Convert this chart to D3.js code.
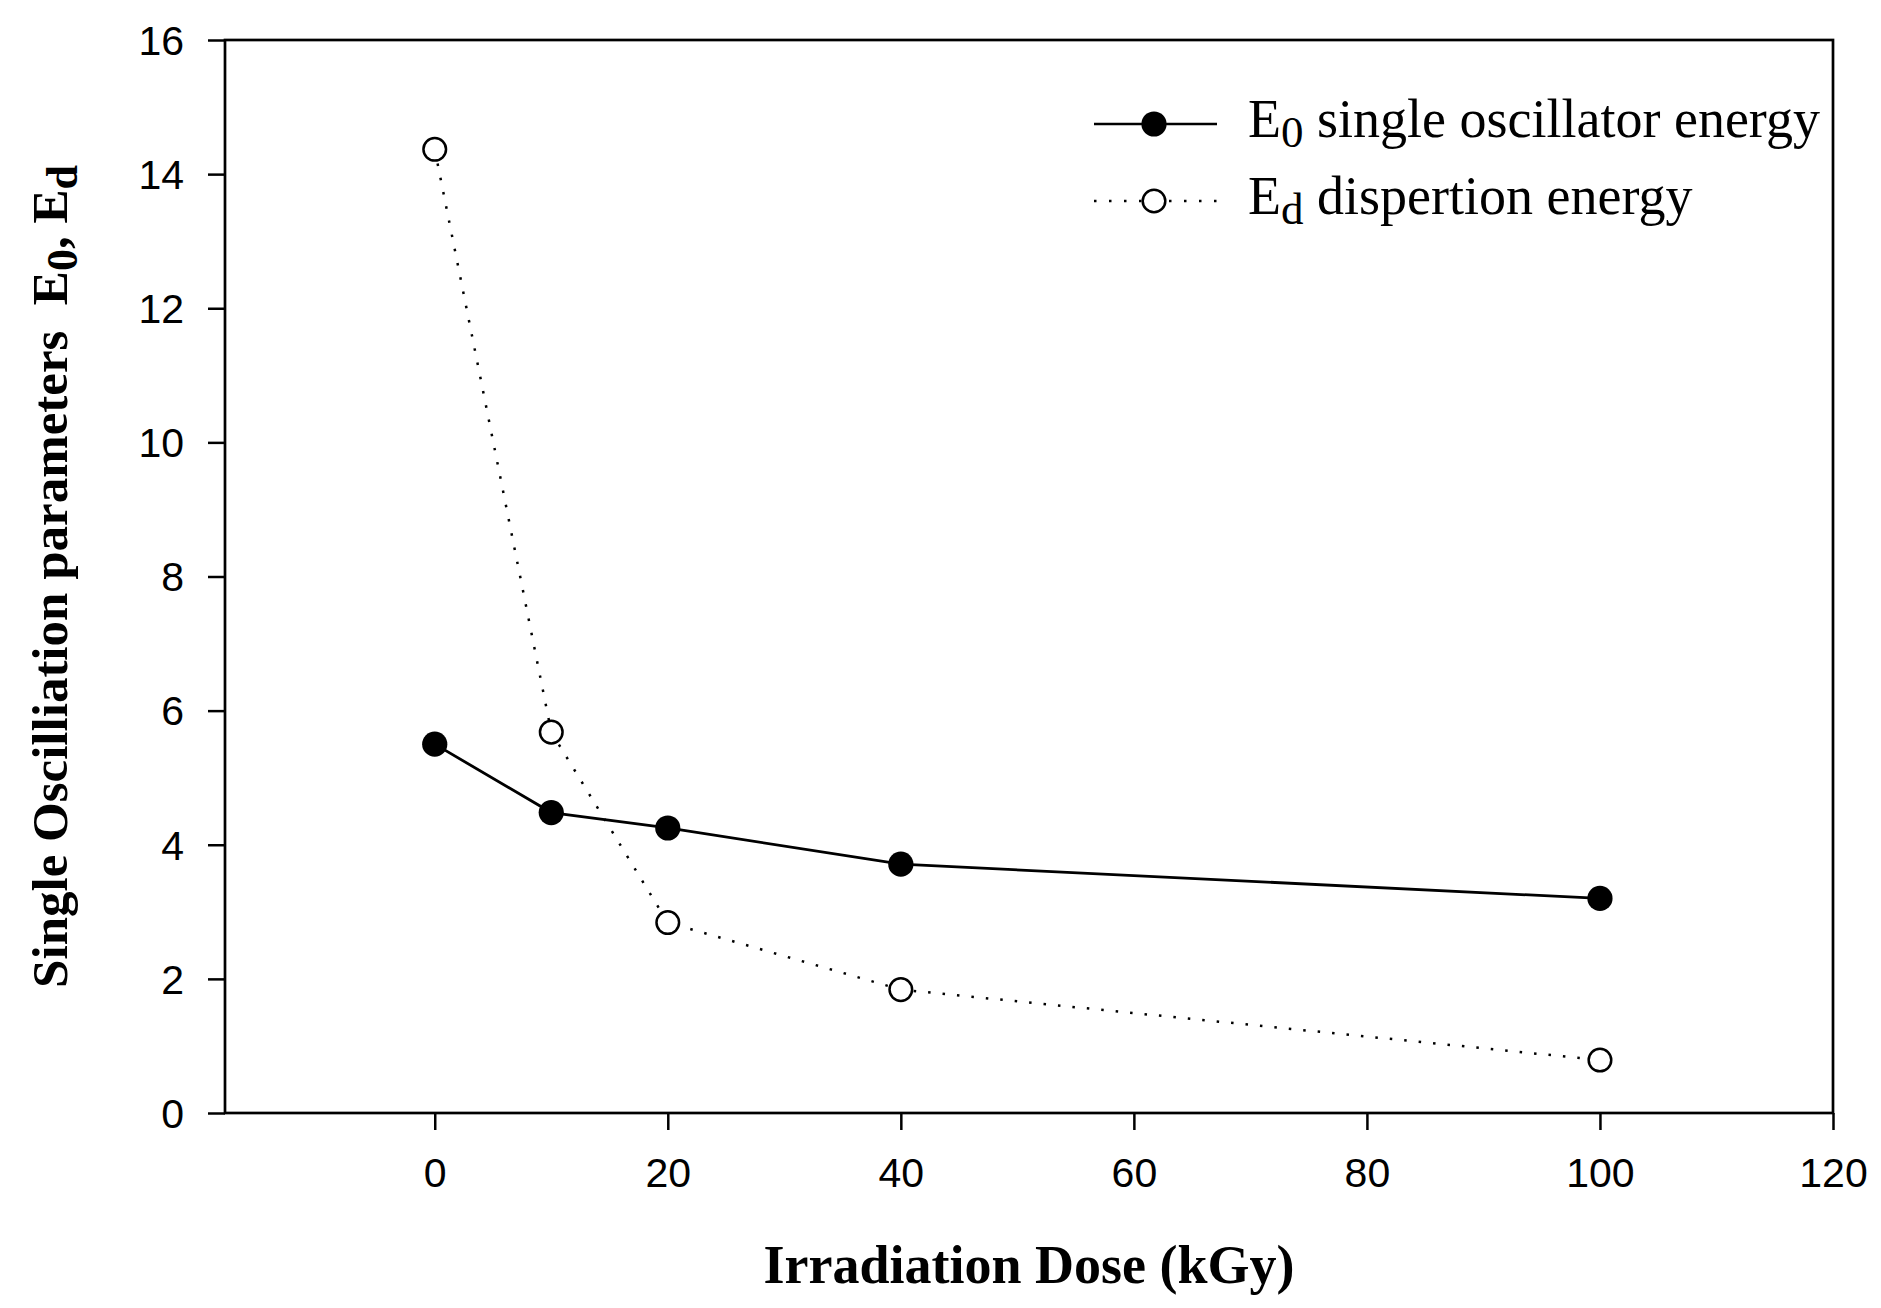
<!DOCTYPE html>
<html>
<head>
<meta charset="utf-8">
<script src="https://cdn.jsdelivr.net/npm/d3@7"></script>
<style>
  body { margin: 0; background: #fff; }
  text { white-space: pre; }
</style>
</head>
<body>
<div id="chart"></div>
<script>
// data
var doses = [0, 10, 20, 40, 100]
var e0 = [5.5, 4.48, 4.25, 3.71, 3.2]
var ed = [14.37, 5.68, 2.84, 1.84, 0.79]
var xTicks = [0, 20, 40, 60, 80, 100, 120]
var yTicks = [0, 2, 4, 6, 8, 10, 12, 14, 16]

var W = 1881, H = 1308
var margin = {top: 40, right: 48, bottom: 195, left: 225},
    width = W - margin.left - margin.right,
    height = H - margin.top - margin.bottom

var svg = d3.select("#chart")
  .append("svg")
    .attr("width", W)
    .attr("height", H)
  .append("g")
    .attr("transform", "translate(" + margin.left + "," + margin.top + ")")

var x = d3.scaleLinear().domain([-18, 120]).range([0, width])
var y = d3.scaleLinear().domain([0, 16]).range([height, 0])

var sans = "'Liberation Sans', Arial, sans-serif"
var serif = "'Liberation Serif', 'Times New Roman', serif"

// axes
var xAxis = svg.append("g")
  .attr("transform", "translate(0," + height + ")")
  .call(d3.axisBottom(x).tickValues(xTicks).tickSize(17).tickPadding(28).tickFormat(d3.format("d")))
var yAxis = svg.append("g")
  .call(d3.axisLeft(y).tickValues(yTicks).tickSize(17).tickPadding(24).tickFormat(d3.format("d")))

;[xAxis, yAxis].forEach(function (a) {
  a.select(".domain").remove()
  a.selectAll("line").attr("stroke", "#000").attr("stroke-width", 2.5)
  a.selectAll("text")
    .attr("fill", "#000")
    .style("font-family", sans)
    .style("font-size", "41px")
})
yAxis.selectAll("text").attr("dy", "0.35em")

// frame
svg.append("rect")
  .attr("x", 0).attr("y", 0)
  .attr("width", width).attr("height", height)
  .attr("fill", "none")
  .attr("stroke", "#000")
  .attr("stroke-width", 2.7)

// lines
var line = d3.line()
  .x(function (d) { return x(d[0]) })
  .y(function (d) { return y(d[1]) })

var e0Pts = doses.map(function (d, i) { return [d, e0[i]] })
var edPts = doses.map(function (d, i) { return [d, ed[i]] })

svg.append("path")
  .attr("d", line(edPts))
  .attr("fill", "none")
  .attr("stroke", "#000")
  .attr("stroke-width", 2.5)
  .attr("stroke-dasharray", "2.5,12")

svg.append("path")
  .attr("d", line(e0Pts))
  .attr("fill", "none")
  .attr("stroke", "#000")
  .attr("stroke-width", 2.8)

// markers
svg.selectAll(".ed")
  .data(edPts)
  .enter()
  .append("circle")
    .attr("cx", function (d) { return x(d[0]) })
    .attr("cy", function (d) { return y(d[1]) })
    .attr("r", 11.3)
    .attr("fill", "#fff")
    .attr("stroke", "#000")
    .attr("stroke-width", 2.5)

svg.selectAll(".e0")
  .data(e0Pts)
  .enter()
  .append("circle")
    .attr("cx", function (d) { return x(d[0]) })
    .attr("cy", function (d) { return y(d[1]) })
    .attr("r", 12.6)
    .attr("fill", "#000")

// legend (page coordinates)
var root = d3.select("svg")
var legend = [
  {main: "E", sub: "0", rest: " single oscillator energy", y: 124, filled: true},
  {main: "E", sub: "d", rest: " dispertion energy", y: 201, filled: false}
]
legend.forEach(function (l) {
  root.append("line")
    .attr("x1", 1094).attr("x2", 1217)
    .attr("y1", l.y).attr("y2", l.y)
    .attr("stroke", "#000")
    .attr("stroke-width", 2.5)
    .attr("stroke-dasharray", l.filled ? null : "2.5,12.5")
  root.append("circle")
    .attr("cx", 1154).attr("cy", l.y)
    .attr("r", l.filled ? 12.6 : 11.3)
    .attr("fill", l.filled ? "#000" : "#fff")
    .attr("stroke", l.filled ? "none" : "#000")
    .attr("stroke-width", 2.5)
  var t = root.append("text")
    .attr("x", 1248)
    .attr("y", l.y + 13)
    .style("font-family", serif)
    .style("font-size", "54px")
  t.append("tspan").text(l.main)
  t.append("tspan").attr("dy", 10).style("font-size", "45px").text(l.sub)
  t.append("tspan").attr("dy", -10).text(l.rest)
})

// axis titles
root.append("text")
  .attr("x", (225 + 1833) / 2)
  .attr("y", 1283)
  .attr("text-anchor", "middle")
  .style("font-family", serif)
  .style("font-weight", "bold")
  .style("font-size", "54px")
  .text("Irradiation Dose (kGy)")

var yt = root.append("text")
  .attr("transform", "translate(67," + ((40 + 1113) / 2) + ") rotate(-90)")
  .attr("text-anchor", "middle")
  .style("font-family", serif)
  .style("font-weight", "bold")
  .style("font-size", "51px")
yt.append("tspan").text("Single Oscilliation parameters  E")
yt.append("tspan").attr("dy", 10).style("font-size", "44px").text("0")
yt.append("tspan").attr("dy", -10).text(", E")
yt.append("tspan").attr("dy", 10).style("font-size", "44px").text("d")
</script>
</body>
</html>
